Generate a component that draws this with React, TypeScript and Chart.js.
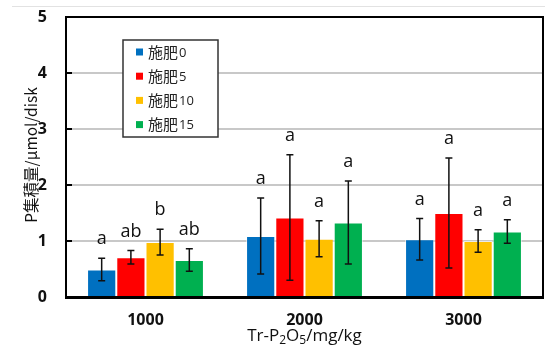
import React, { useEffect, useRef } from "react";
import { Chart, registerables } from "chart.js";

Chart.register(...registerables);

const categories = ["1000", "2000", "3000"];
const seriesLabels = ["施肥0", "施肥5", "施肥10", "施肥15"];
const seriesColors = ["#0070C0", "#FF0000", "#FFC000", "#00B050"];

const fert0 = [0.49, 1.09, 1.03];
const fert5 = [0.71, 1.42, 1.50];
const fert10 = [0.98, 1.04, 1.00];
const fert15 = [0.66, 1.33, 1.17];

const sd0 = [0.20, 0.68, 0.37];
const sd5 = [0.12, 1.12, 0.98];
const sd10 = [0.23, 0.32, 0.20];
const sd15 = [0.20, 0.74, 0.21];

const letters0 = ["a", "a", "a"];
const letters5 = ["ab", "a", "a"];
const letters10 = ["b", "a", "a"];
const letters15 = ["ab", "a", "a"];

const yTicks = [0, 1, 2, 3, 4, 5];

const means = [fert0, fert5, fert10, fert15];
const sds = [sd0, sd5, sd10, sd15];
const letters = [letters0, letters5, letters10, letters15];

const LATIN = "'Open Sans', 'Noto Sans', sans-serif";
const CJK = "'Noto Sans CJK JP', 'Noto Sans', sans-serif";

const decorPlugin = {
  id: "decor",
  beforeDraw(chart: any) {
    const ctx = chart.ctx;
    ctx.save();
    ctx.fillStyle = "#e2e2e2";
    ctx.fillRect(12, 6, 533, 1);
    ctx.restore();
  },
  afterDatasetsDraw(chart: any) {
    const ctx = chart.ctx;
    const ys = chart.scales.y;
    ctx.save();
    means.forEach((arr, i) => {
      const meta = chart.getDatasetMeta(i);
      meta.data.forEach((el: any, j: number) => {
        const x = el.x;
        const top = ys.getPixelForValue(arr[j] + sds[i][j]);
        const bot = ys.getPixelForValue(arr[j] - sds[i][j]);
        ctx.strokeStyle = "#111";
        ctx.lineWidth = 1.5;
        ctx.beginPath();
        ctx.moveTo(x, top);
        ctx.lineTo(x, bot);
        ctx.moveTo(x - 3.5, top);
        ctx.lineTo(x + 3.5, top);
        ctx.moveTo(x - 3.5, bot);
        ctx.lineTo(x + 3.5, bot);
        ctx.stroke();
        ctx.fillStyle = "#111";
        ctx.font = `18px ${LATIN}`;
        ctx.textAlign = "center";
        ctx.textBaseline = "alphabetic";
        ctx.fillText(letters[i][j], x, top - 14);
      });
    });
    ctx.restore();
  },
  afterDraw(chart: any) {
    const ctx = chart.ctx;
    const a = chart.chartArea;
    const ys = chart.scales.y;
    ctx.save();
    const L = Math.round(a.left), R = Math.round(a.right);
    const T = Math.round(a.top), B = Math.round(a.bottom);
    ctx.fillStyle = "#000";
    // inner tick marks
    yTicks.forEach((t) => {
      const y = Math.round(ys.getPixelForValue(t));
      ctx.fillRect(L, y - 1, 6, 2);
    });
    // plot border
    ctx.fillRect(L - 1, T - 1, R - L + 2, 2); // top
    ctx.fillRect(L - 1, T - 1, 2, B - T + 2); // left
    ctx.fillRect(R - 1, T - 1, 2, B - T + 2); // right
    ctx.fillRect(L - 1, B - 1, R - L + 2, 3); // bottom

    // legend
    const lx = 123, ly = 40, lw = 95, lh = 97;
    ctx.fillStyle = "#fff";
    ctx.fillRect(lx, ly, lw, lh);
    ctx.strokeStyle = "#333";
    ctx.lineWidth = 1.5;
    ctx.strokeRect(lx, ly, lw, lh);
    seriesLabels.forEach((lab, i) => {
      const cy = 52 + i * 24.2;
      ctx.fillStyle = seriesColors[i];
      ctx.fillRect(136, cy - 3.5, 7, 7);
      ctx.fillStyle = "#222";
      ctx.textAlign = "left";
      ctx.textBaseline = "middle";
      ctx.font = `15px ${CJK}`;
      const cjk = lab.slice(0, 2);
      const num = lab.slice(2);
      ctx.fillText(cjk, 148, cy);
      const w = ctx.measureText(cjk).width;
      ctx.font = `13px ${LATIN}`;
      ctx.fillText(num, 148 + w + 1, cy + 1);
    });

    // y title
    ctx.save();
    ctx.translate(31, 155);
    ctx.rotate(-Math.PI / 2);
    ctx.fillStyle = "#111";
    ctx.textAlign = "center";
    ctx.textBaseline = "middle";
    ctx.font = `15.5px ${CJK}`;
    ctx.fillText("P集積量/μmol/disk", 0, 0);
    ctx.restore();

    // x title with subscripts
    const parts: [string, boolean][] = [
      ["Tr-P", false],
      ["2", true],
      ["O", false],
      ["5", true],
      ["/mg/kg", false],
    ];
    const nf = `17px ${LATIN}`;
    const sf = `12px ${LATIN}`;
    let total = 0;
    parts.forEach(([t, s]) => {
      ctx.font = s ? sf : nf;
      total += ctx.measureText(t).width;
    });
    let x = (a.left + a.right) / 2 - total / 2;
    const base = 341;
    ctx.fillStyle = "#111";
    ctx.textAlign = "left";
    ctx.textBaseline = "alphabetic";
    parts.forEach(([t, s]) => {
      ctx.font = s ? sf : nf;
      ctx.fillText(t, x, s ? base + 3 : base);
      x += ctx.measureText(t).width;
    });
    ctx.restore();
  },
};

export default function App() {
  const ref = useRef<HTMLCanvasElement | null>(null);
  useEffect(() => {
    if (!ref.current) return;
    const chart = new Chart(ref.current, {
      type: "bar",
      data: {
        labels: categories,
        datasets: means.map((arr, i) => ({
          label: seriesLabels[i],
          data: arr,
          backgroundColor: seriesColors[i],
          borderColor: "rgba(255,255,255,0.6)",
          borderWidth: 1,
          borderSkipped: "bottom",
          categoryPercentage: 0.735,
          barPercentage: 1,
        })),
      },
      options: {
        responsive: false,
        animation: false,
        devicePixelRatio: 1,
        layout: { padding: { left: 0, top: 17, right: 2, bottom: 0 } },
        plugins: {
          legend: { display: false },
          tooltip: { enabled: false },
          title: { display: false },
        },
        scales: {
          x: {
            grid: { display: false, drawTicks: false },
            border: { display: false },
            ticks: {
              padding: 14,
              color: "#111",
              font: { family: LATIN, size: 16, weight: "bold" },
            },
            afterFit: (s: any) => {
              s.height = 55;
              s.paddingLeft = 0;
              s.paddingRight = 0;
            },
          },
          y: {
            min: 0,
            max: 5,
            grid: { color: "#c8c8c8", lineWidth: 2, drawTicks: false },
            border: { display: false },
            ticks: {
              stepSize: 1,
              padding: 19,
              color: "#111",
              font: { family: LATIN, size: 16, weight: "bold" },
            },
            afterFit: (s: any) => {
              s.width = 66;
              s.paddingTop = 0;
              s.paddingBottom = 0;
            },
          },
        },
      },
      plugins: [decorPlugin],
    } as any);
    return () => chart.destroy();
  }, []);
  return (
    <div style={{ position: "fixed", left: 0, top: 0, width: 545, height: 352, background: "#fff" }}>
      <canvas ref={ref} width={545} height={352} style={{ width: 545, height: 352, display: "block" }} />
    </div>
  );
}
